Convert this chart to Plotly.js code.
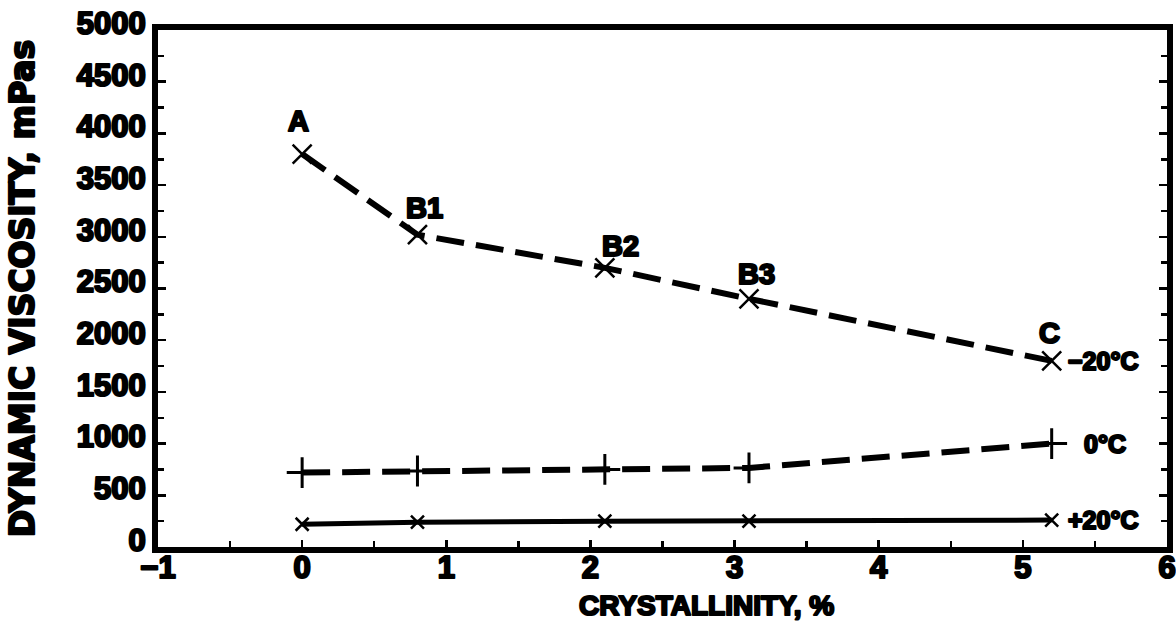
<!DOCTYPE html>
<html>
<head>
<meta charset="utf-8">
<script src="https://cdn.plot.ly/plotly-3.0.1.min.js"></script>
<style>
html,body{margin:0;padding:0;background:#fff;}
#chart{width:1176px;height:629px;}
svg text{stroke:#000 !important;stroke-width:2.2px !important;stroke-linejoin:round;paint-order:stroke;}
</style>
</head>
<body>
<div id="chart"></div>
<script>
// Data
const crystallinity = [0, 0.8, 2.1, 3.1, 5.2];
const viscMinus20 = [3800, 3020, 2700, 2400, 1800];
const visc0 = [720, 735, 750, 765, 1000];
const viscPlus20 = [220, 240, 250, 250, 260];
const pointLabels = ['A', 'B1', 'B2', 'B3', 'C'];
const seriesLabels = ['\u221220\u00b0C', '0\u00b0C', '+20\u00b0C'];

const FONT = 'Liberation Sans, Arial, sans-serif';
const WIDE = 'DejaVu Sans, Liberation Sans, sans-serif';

const traces = [
  {x: crystallinity, y: viscMinus20, mode: 'lines+markers', type: 'scatter',
   line: {color: '#000', width: 6, dash: '28px,12px'},
   marker: {symbol: 'x-thin-open', size: 19, line: {color: '#000', width: 2.5}}},
  {x: crystallinity, y: visc0, mode: 'lines+markers', type: 'scatter',
   line: {color: '#000', width: 6, dash: '28px,12px'},
   marker: {symbol: 'cross-thin-open', size: 22, line: {color: '#000', width: 3}}},
  {x: crystallinity, y: viscPlus20, mode: 'lines+markers', type: 'scatter',
   line: {color: '#000', width: 5},
   marker: {symbol: 'x-thin-open', size: 13, line: {color: '#000', width: 2.5}}},
  {x: [], y: [], yaxis: 'y2', type: 'scatter', mode: 'markers'}
];

const ptOffsets = [[-4, 33], [7, 27], [16, 22], [8, 25], [-2, 28]];
const annotations = pointLabels.map((t, i) => ({
  x: crystallinity[i], y: viscMinus20[i], xref: 'x', yref: 'y', text: t,
  showarrow: false, xshift: ptOffsets[i][0], yshift: ptOffsets[i][1],
  xanchor: 'center', yanchor: 'middle',
  font: {family: FONT, size: 29, color: '#000', weight: 700}
}));
const lastIdx = crystallinity.length - 1;
const endVals = [viscMinus20[lastIdx], visc0[lastIdx], viscPlus20[lastIdx]];
const endShifts = [14, 30, 14];
seriesLabels.forEach((t, i) => annotations.push({
  x: crystallinity[lastIdx], y: endVals[i], xref: 'x', yref: 'y', text: t,
  showarrow: false, xanchor: 'left', yanchor: 'middle', xshift: endShifts[i], yshift: 0,
  font: {family: FONT, size: 25, color: '#000', weight: 700}
}));
// x-axis title placed as a paper annotation (it sits right of centre in the reference)
const pw = 1176 - 158 - 9, ph = 629 - 30 - 82;
annotations.push({
  x: (706 - 158) / pw, y: (547 - 605) / ph, xref: 'paper', yref: 'paper',
  xanchor: 'center', yanchor: 'middle',
  text: 'CRYSTALLINITY, %',
  showarrow: false, font: {family: FONT, size: 28, color: '#000', weight: 700}
});

const layout = {
  width: 1176, height: 629,
  margin: {l: 158, r: 9, t: 30, b: 82},
  paper_bgcolor: '#fff', plot_bgcolor: '#fff',
  showlegend: false,
  font: {family: FONT, color: '#000'},
  xaxis: {
    range: [-1, 6], dtick: 1, tick0: 0,
    showgrid: false, zeroline: false,
    showline: true, linewidth: 6, linecolor: '#000', mirror: true,
    ticks: 'inside', ticklen: 7, tickwidth: 2.5, tickcolor: '#000',
    minor: {dtick: 0.5, ticks: 'inside', ticklen: 6, tickwidth: 2.5, tickcolor: '#000'},
    tickfont: {family: FONT, size: 31, color: '#000', weight: 700},
    ticklabelstandoff: -12,
    tickformat: 'd'
  },
  yaxis: {
    range: [0, 5000], dtick: 500,
    showgrid: false, zeroline: false,
    showline: true, linewidth: 6, linecolor: '#000', mirror: true,
    ticks: 'inside', ticklen: 8, tickwidth: 2.5, tickcolor: '#000',
    minor: {dtick: 250, ticks: 'inside', ticklen: 6, tickwidth: 2.5, tickcolor: '#000'},
    tickfont: {family: FONT, size: 31, color: '#000', weight: 700},
    ticklabelshift: -7,
    title: {text: 'DYNAMIC VISCOSITY, mPas', standoff: 34,
            font: {family: WIDE, size: 33, color: '#000', weight: 700}}
  },
  yaxis2: {
    range: [0, 5000], dtick: 500, overlaying: 'y', side: 'right',
    showgrid: false, zeroline: false, showticklabels: false,
    ticks: 'inside', ticklen: 8, tickwidth: 2.5, tickcolor: '#000',
    minor: {dtick: 250, ticks: 'inside', ticklen: 6, tickwidth: 2.5, tickcolor: '#000'}
  },
  annotations: annotations
};

Plotly.newPlot('chart', traces, layout, {displayModeBar: false, staticPlot: true});
</script>
</body>
</html>
